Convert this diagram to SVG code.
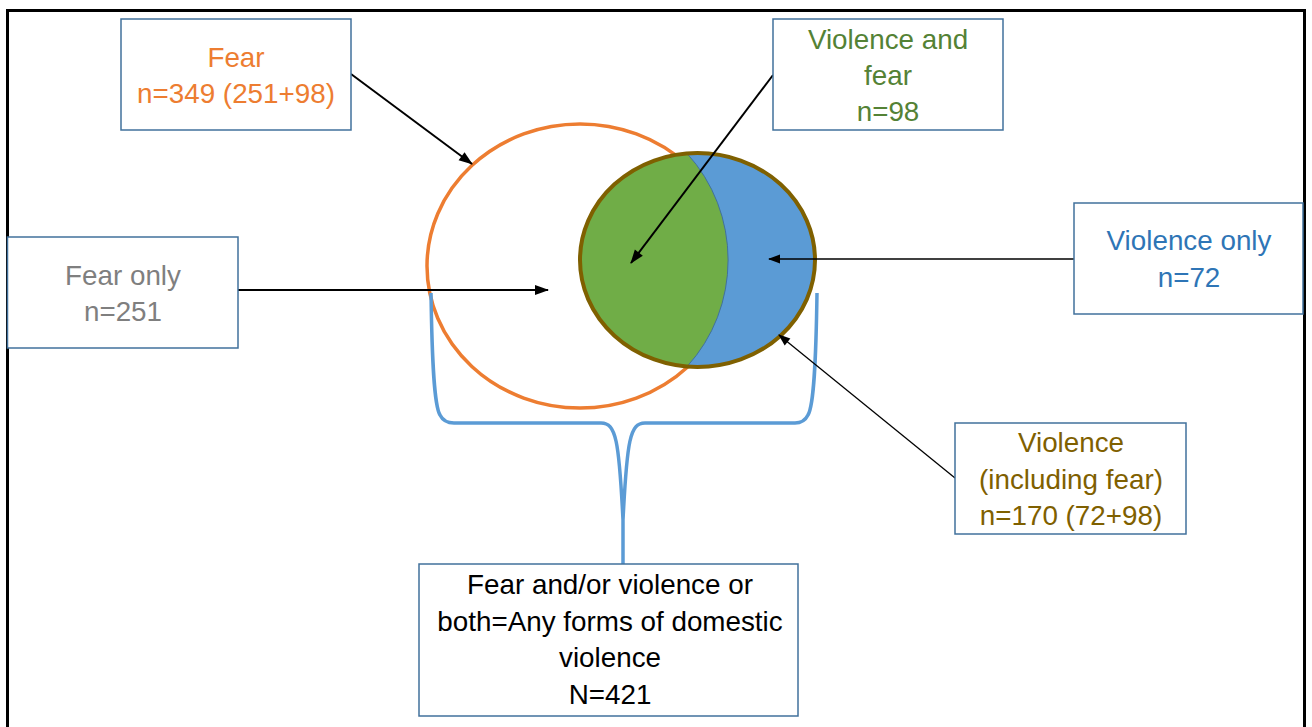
<svg xmlns="http://www.w3.org/2000/svg" width="1312" height="727" viewBox="0 0 1312 727">
<style>
.box{fill:#fff;stroke:#41719C;stroke-width:1.5}
.t{font-family:"Liberation Sans",Arial,sans-serif;font-size:27.8px;text-anchor:middle}
.arr{fill:none;stroke:#000;stroke-width:2}
.arr2{fill:none;stroke:#000;stroke-width:1.3}
</style>
<defs>
<marker id="ah" viewBox="0 0 14 10" refX="13" refY="5" markerWidth="14" markerHeight="10" markerUnits="userSpaceOnUse" orient="auto" overflow="visible">
<path d="M0,0 L14,5 L0,10 Z" fill="#000"/>
</marker>
<marker id="ah2" viewBox="0 0 12 9" refX="11" refY="4.5" markerWidth="12" markerHeight="9" markerUnits="userSpaceOnUse" orient="auto" overflow="visible">
<path d="M0,0 L12,4.5 L0,9 Z" fill="#000"/>
</marker>
</defs>
<rect x="0" y="0" width="1312" height="727" fill="#fff"/>
<rect x="7.5" y="10.5" width="1297" height="730" fill="none" stroke="#000" stroke-width="3"/>

<g id="venn">
<ellipse cx="580" cy="266" rx="153" ry="142" fill="#fff" stroke="#ED7D31" stroke-width="3.5"/>
<ellipse cx="697.5" cy="260" rx="117.5" ry="107" fill="#5B9BD5"/>
<path d="M687,153.4 A150,155 0 0 1 687,366.6 A117.5,107 0 0 1 687,153.4 Z" fill="#70AD47" stroke="#41719C" stroke-width="1"/>
<ellipse cx="697.5" cy="260" rx="117.5" ry="107" fill="none" stroke="#7F6000" stroke-width="4"/>
</g>

<g id="brace">
<path d="M431,293 C432,360 434,405 440,415 Q444,423 454,423 L601,423 C616,423 619,440 623,520 L623,566 M623,520 C627,440 630,423 645,423 L795,423 Q804,423 808,415 C814,405 816,360 817,293" fill="none" stroke="#5B9BD5" stroke-width="3.5"/>
</g>

<g id="connectors">
<line class="arr" x1="351" y1="74" x2="472" y2="164" marker-end="url(#ah)"/>
<line class="arr" x1="773" y1="75" x2="631" y2="263" marker-end="url(#ah)"/>
<line class="arr" x1="238" y1="290" x2="548" y2="290" marker-end="url(#ah)"/>
<line class="arr2" x1="1074" y1="259" x2="769" y2="259" marker-end="url(#ah2)"/>
<line class="arr2" x1="955" y1="478" x2="779" y2="335" marker-end="url(#ah2)"/>
</g>

<g id="fear">
<rect class="box" x="121" y="19" width="230" height="111"/>
<text class="t" fill="#ED7D31"><tspan x="236" y="67">Fear</tspan><tspan x="236" y="103">n=349 (251+98)</tspan></text>
</g>

<g id="violence-and-fear">
<rect class="box" x="773" y="19" width="230" height="111"/>
<text class="t" fill="#548235"><tspan x="888" y="49">Violence and</tspan><tspan x="888" y="85">fear</tspan><tspan x="888" y="121">n=98</tspan></text>
</g>

<g id="fear-only">
<rect class="box" x="7.5" y="237" width="230.5" height="111"/>
<text class="t" fill="#7F7F7F"><tspan x="123" y="285">Fear only</tspan><tspan x="123" y="321">n=251</tspan></text>
</g>

<g id="violence-only">
<rect class="box" x="1074" y="203" width="229" height="111"/>
<text class="t" fill="#2E75B6"><tspan x="1189" y="250">Violence only</tspan><tspan x="1189" y="287">n=72</tspan></text>
</g>

<g id="violence-including-fear">
<rect class="box" x="955" y="423" width="231" height="111"/>
<text class="t" fill="#7F6000"><tspan x="1071" y="452">Violence</tspan><tspan x="1071" y="489">(including fear)</tspan><tspan x="1071" y="525">n=170 (72+98)</tspan></text>
</g>

<g id="any-violence">
<rect class="box" x="419" y="564" width="379" height="152"/>
<text class="t" fill="#000"><tspan x="610" y="594">Fear and/or violence or</tspan><tspan x="610" y="631">both=Any forms of domestic</tspan><tspan x="610" y="667">violence</tspan><tspan x="610" y="704">N=421</tspan></text>
</g>
</svg>
